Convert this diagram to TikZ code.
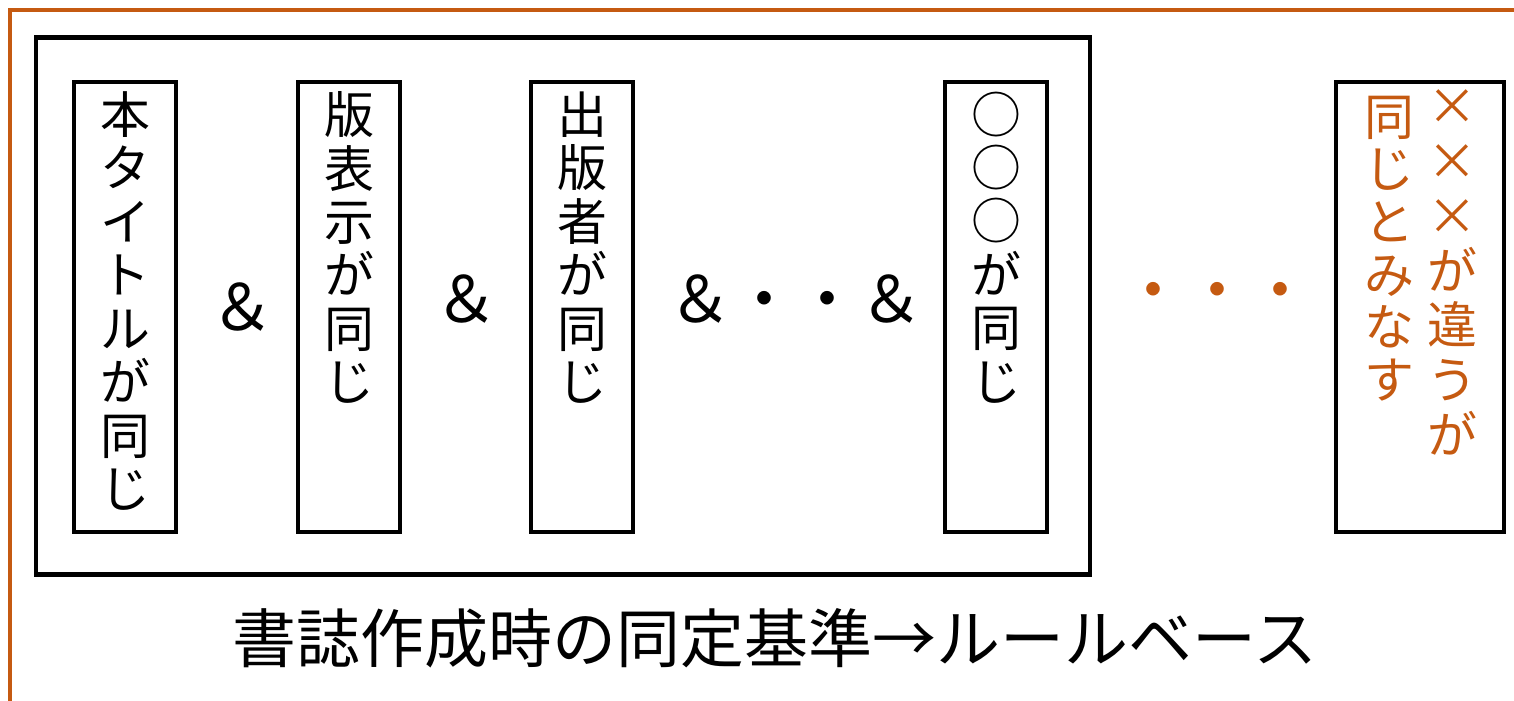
\documentclass[tikz,border=0pt]{standalone}
\usepackage{fontspec}
\setmainfont{Noto Sans CJK JP}
\usepackage{xcolor}
\usepackage{tikz}
\definecolor{accent}{RGB}{197,90,17}

\begin{document}
\begin{tikzpicture}
	\useasboundingbox (0,0) rectangle (15.14,7.01);
	\draw[accent,line width=1.1pt] (0.10,0) -- (0.10,6.91) -- (15.14,6.91);
	\tikzstyle{every node}=[draw,shape=rectangle,line width=1pt,inner sep=0pt,minimum width=1.02cm,minimum height=4.5cm];
	\node[line width=1.3pt,minimum width=10.54cm,minimum height=5.37cm] (grp) at (5.63,3.95) {};
	\node (b1) at ( 1.25,3.94) {};
	\node (b2) at ( 3.49,3.94) {};
	\node (b3) at ( 5.82,3.94) {};
	\node (b4) at ( 9.96,3.94) {};
	\node[minimum width=1.68cm] (b5) at (14.20,3.94) {};
	\tikzstyle{every node}=[anchor=north,align=center,inner sep=0pt,font=\fontsize{14.2}{15.2}\selectfont];
	\node (t1) at ( 1.25,6.10) {本\\タ\\イ\\ト\\ル\\が\\同\\じ};
	\node (t2) at ( 3.49,6.10) {版\\表\\示\\が\\同\\じ};
	\node (t3) at ( 5.82,6.10) {出\\版\\者\\が\\同\\じ};
	\node (t4) at ( 9.96,6.10) {○\\○\\○\\が\\同\\じ};
	\node[text=accent,font=\fontsize{14.2}{15.6}\selectfont] (t5) at (14.52,6.12) {×\\×\\×\\が\\違\\う\\が};
	\node[text=accent,font=\fontsize{14.2}{15.0}\selectfont] (t6) at (13.89,6.06) {同\\じ\\と\\み\\な\\す};
	\tikzstyle{every node}=[inner sep=0pt,font=\fontsize{18.2}{21}\selectfont];
	\node (and1) at ( 2.42,3.94) {＆};
	\node (and2) at ( 4.66,4.02) {＆};
	\node (and3) at ( 7.96,4.02) {＆・・＆};
	\node[text=accent] (more) at (12.17,4.03) {・・・};
	\node (cap) at ( 7.75,0.63) {書誌作成時の同定基準→ルールベース};
\end{tikzpicture}
\end{document}
